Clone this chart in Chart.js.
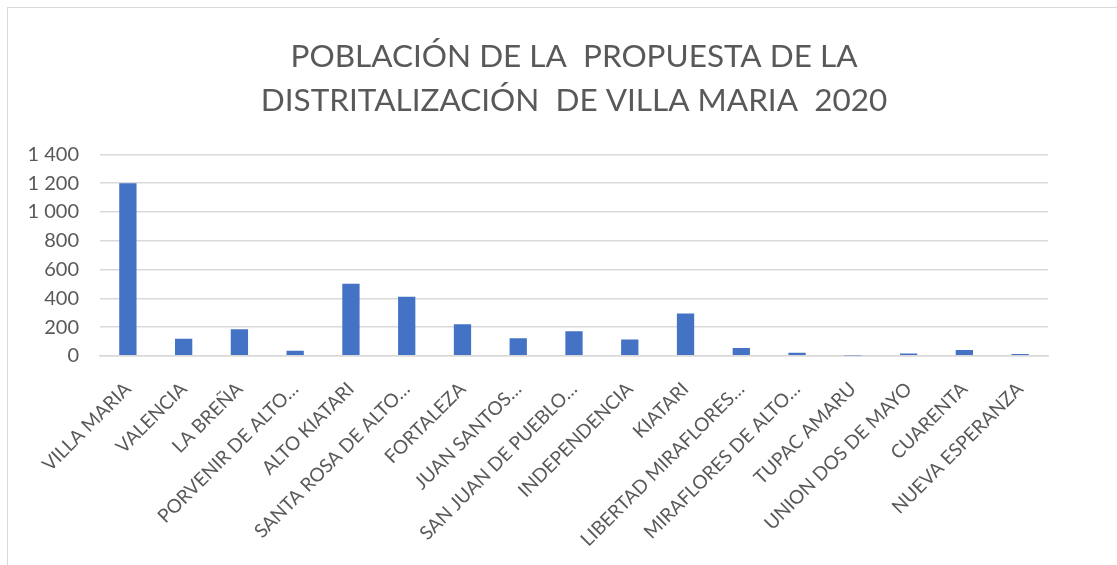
<!DOCTYPE html>
<html>
<head>
<meta charset="utf-8">
<script src="https://cdn.jsdelivr.net/npm/chart.js@4/dist/chart.umd.min.js"></script>
<style>
  html, body { margin: 0; padding: 0; background: #fff; overflow: hidden; }
  #wrap { position: absolute; left: 7px; top: 7px; width: 1130px; height: 580px; border: 1px solid #d9d9d9; }
  #chart { position: absolute; left: 0; top: 0; }
</style>
</head>
<body>
<div id="wrap"></div>
<canvas id="chart" width="1117" height="565"></canvas>
<script>
// Data
const titleLines = ["POBLACIÓN DE LA  PROPUESTA DE LA", "DISTRITALIZACIÓN  DE VILLA MARIA  2020"];
const categories = [
  "VILLA MARIA", "VALENCIA", "LA BREÑA", "PORVENIR DE ALTO…", "ALTO KIATARI",
  "SANTA ROSA DE ALTO…", "FORTALEZA", "JUAN SANTOS…", "SAN JUAN DE PUEBLO…",
  "INDEPENDENCIA", "KIATARI", "LIBERTAD MIRAFLORES…", "MIRAFLORES DE ALTO…",
  "TUPAC AMARU", "UNION DOS DE MAYO", "CUARENTA", "NUEVA ESPERANZA"
];
const poblacion = [1200, 118, 185, 35, 502, 410, 219, 122, 171, 113, 295, 55, 21, 2, 16, 41, 12];
const yTicks = [0, 200, 400, 600, 800, 1000, 1200, 1400];

// 1400 -> "1 400"
function fmt(v) {
  return String(v).replace(/\B(?=(\d{3})+(?!\d))/g, " ");
}

const ctx = document.getElementById("chart").getContext("2d");
new Chart(ctx, {
  type: "bar",
  data: {
    labels: categories,
    datasets: [{
      label: "Población",
      data: poblacion,
      backgroundColor: "#4472C4",
      barPercentage: 0.31,
      categoryPercentage: 1
    }]
  },
  options: {
    responsive: false,
    animation: false,
    layout: { padding: { left: 20, right: 69, top: 34, bottom: 0 } },
    plugins: {
      legend: { display: false },
      tooltip: { enabled: false },
      title: {
        display: true,
        fullSize: false,
        text: titleLines,
        color: "#595959",
        font: { family: "Lato", size: 31.5, weight: "normal", lineHeight: 1.42 },
        padding: { top: 0, bottom: 31 }
      }
    },
    scales: {
      x: {
        grid: { display: false },
        border: { display: true, color: "#d9d9d9", width: 1.5 },
        // first rotated label may hang past the y axis, don't let it push the plot right
        afterFit: axis => { axis.paddingLeft = 0; axis.paddingRight = 0; },
        ticks: {
          color: "#595959",
          font: { family: "Lato", size: 19 },
          minRotation: 45,
          maxRotation: 45,
          autoSkip: false,
          padding: 14
        }
      },
      y: {
        min: 0,
        max: 1400,
        afterBuildTicks: axis => { axis.ticks = yTicks.map(v => ({ value: v })); },
        afterFit: axis => { axis.width = 80; },
        grid: { color: "#d9d9d9", lineWidth: 1.5, drawTicks: false },
        border: { display: false },
        ticks: {
          color: "#595959",
          font: { family: "Lato", size: 20 },
          padding: 21,
          autoSkip: false,
          callback: v => fmt(v)
        }
      }
    }
  }
});
</script>
</body>
</html>
